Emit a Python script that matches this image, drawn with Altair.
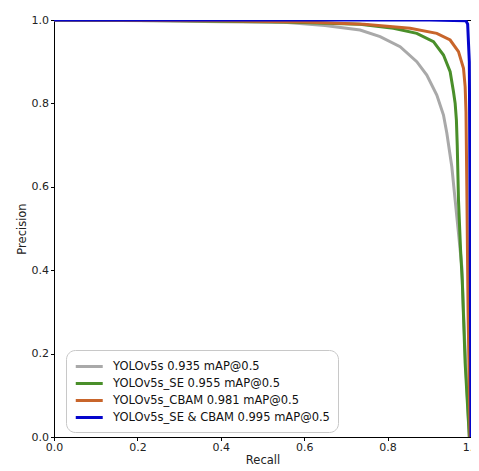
import altair as alt
import pandas as pd

series_names = [
    "YOLOv5s 0.935 mAP@0.5",
    "YOLOv5s_SE 0.955 mAP@0.5",
    "YOLOv5s_CBAM 0.981 mAP@0.5",
    "YOLOv5s_SE & CBAM 0.995 mAP@0.5",
]
series_colors = ["#a9a9a9", "#4a8f2a", "#c8652b", "#0505cc"]

gray_recall = [0, 0.24, 0.4, 0.559, 0.65, 0.734, 0.782, 0.830, 0.870, 0.894, 0.918, 0.934, 0.942, 0.954, 0.962, 0.970, 0.978, 0.982, 0.987, 0.996]
gray_precision = [1.0, 0.998, 0.996, 0.994, 0.987, 0.976, 0.960, 0.936, 0.900, 0.868, 0.820, 0.772, 0.729, 0.648, 0.568, 0.489, 0.408, 0.30, 0.18, 0.0]

green_recall = [0, 0.3, 0.55, 0.734, 0.814, 0.870, 0.910, 0.934, 0.950, 0.958, 0.962, 0.965, 0.967, 0.970, 0.975, 0.979, 0.986, 0.996]
green_precision = [1.0, 0.998, 0.995, 0.990, 0.980, 0.968, 0.948, 0.916, 0.876, 0.828, 0.80, 0.76, 0.70, 0.568, 0.448, 0.376, 0.177, 0.0]

orange_recall = [0, 0.4, 0.6, 0.743, 0.854, 0.918, 0.950, 0.970, 0.982, 0.986, 0.988, 0.990, 0.993, 0.998]
orange_precision = [1.0, 0.998, 0.995, 0.990, 0.980, 0.968, 0.952, 0.924, 0.884, 0.84, 0.78, 0.60, 0.30, 0.0]

blue_recall = [0, 0.5, 0.9, 0.988, 0.992, 0.996, 0.998, 1.0]
blue_precision = [1.0, 1.0, 1.0, 0.998, 0.99, 0.90, 0.50, 0.0]

tick_values = [0.0, 0.2, 0.4, 0.6, 0.8, 1.0]

rows = []
for name, rs, ps in zip(series_names,
                        [gray_recall, green_recall, orange_recall, blue_recall],
                        [gray_precision, green_precision, orange_precision, blue_precision]):
    for i, (r, p) in enumerate(zip(rs, ps)):
        rows.append({"series": name, "recall": r, "precision": p, "idx": i})
df = pd.DataFrame(rows)

chart = alt.Chart(df).mark_line(strokeWidth=3, clip=True).encode(
    x=alt.X("recall:Q", title="Recall",
            scale=alt.Scale(domain=[0, 1], nice=False, zero=False),
            axis=alt.Axis(values=tick_values, format=".1f", labelPadding=0.5,
                          titlePadding=2, labelFlush=False, labelOverlap=False)),
    y=alt.Y("precision:Q", title="Precision",
            scale=alt.Scale(domain=[0, 1], nice=False, zero=False),
            axis=alt.Axis(values=tick_values, format=".1f", labelFlush=False,
                          labelOverlap=False)),
    color=alt.Color("series:N",
                    scale=alt.Scale(domain=series_names, range=series_colors),
                    sort=series_names,
                    legend=alt.Legend(title=None, orient="none", legendX=12, legendY=330,
                                      symbolType="M-1,0H3", symbolSize=182,
                                      symbolStrokeWidth=3, labelFontSize=11.5,
                                      labelFont="DejaVu Sans", labelColor="#111111",
                                      labelLimit=400, padding=8, rowPadding=2,
                                      cornerRadius=9, strokeColor="#c8c8c8",
                                      fillColor="white", labelOffset=22)),
    order="idx:Q",
).properties(
    width=417, height=417,
    autosize=alt.AutoSizeParams(type="none"),
    padding={"left": 46, "top": 12, "right": 0, "bottom": 34},
).configure_axis(
    grid=False, domainColor="black", tickColor="black", tickSize=3.5,
    labelFont="DejaVu Sans", labelFontSize=11, labelColor="#222222",
    titleFont="DejaVu Sans", titleFontSize=11.5, titleFontWeight="normal",
    titleColor="#222222", labelPadding=2,
).configure_view(stroke="black", strokeWidth=1)

chart.save("out.html", embed_options={"renderer": "svg", "actions": False})
